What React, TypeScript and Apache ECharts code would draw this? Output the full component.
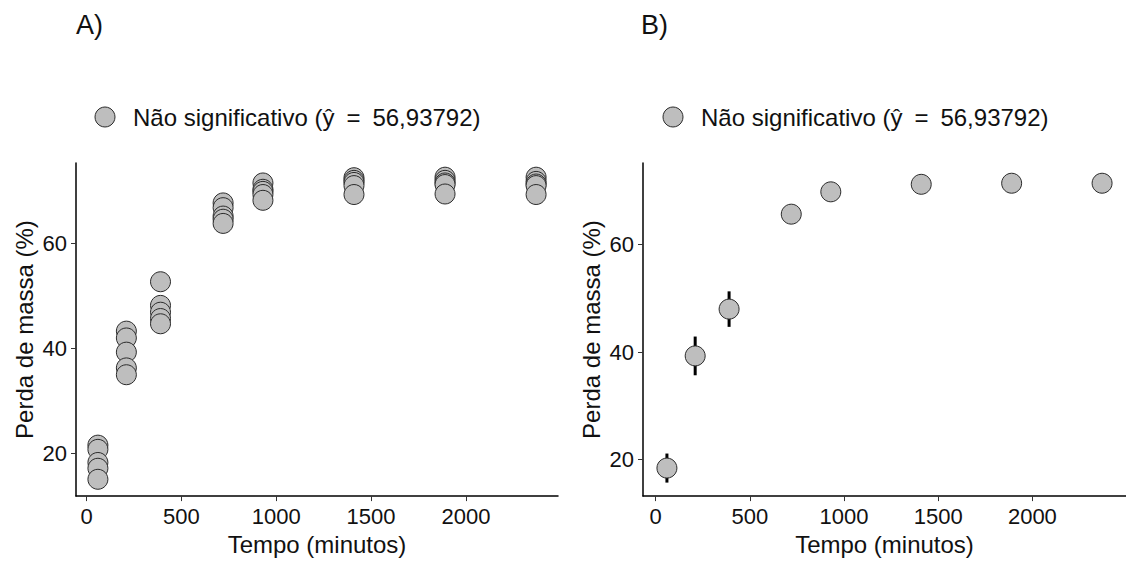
import React, { useEffect, useRef } from "react";
import * as echarts from "echarts";

const FONT = "'Liberation Sans', Arial, Helvetica, sans-serif";

// Time points (minutes)
const tempos = [60, 210, 390, 720, 930, 1410, 1890, 2370];

// Panel A: individual replicates (% mass loss) per time point
const rep1 = [21.6, 43.3, 52.7, 67.7, 71.5, 72.5, 72.6, 72.6];
const rep2 = [20.8, 42.0, 48.2, 66.8, 70.3, 72.0, 72.0, 71.8];
const rep3 = [18.3, 39.3, 46.9, 65.2, 69.9, 71.6, 71.5, 71.3];
const rep4 = [17.2, 36.3, 45.7, 64.6, 69.3, 71.0, 71.2, 71.0];
const rep5 = [15.1, 35.0, 44.7, 63.8, 68.2, 69.3, 69.4, 69.3];

// Panel B: means and standard deviations
const medias = [18.45, 39.3, 48.0, 65.65, 69.8, 71.2, 71.4, 71.4];
const desvios = [2.7, 3.6, 3.3, 1.6, 1.3, 1.2, 1.2, 1.3];

const xTicks = [0, 500, 1000, 1500, 2000];
const yTicks = [20, 40, 60];

const legendText = "Não significativo (ŷ\u2002=\u200256,93792)";
const xName = "Tempo (minutos)";
const yName = "Perda de massa (%)";

export default function App() {
  const ref = useRef<HTMLDivElement>(null);

  useEffect(() => {
    if (!ref.current) return;
    const chart = echarts.init(ref.current, null, { renderer: "svg" });

    const repsA: number[][] = [];
    [rep1, rep2, rep3, rep4, rep5].forEach((rep) => {
      rep.forEach((v, i) => repsA.push([tempos[i], v]));
    });
    const meansB = tempos.map((t, i) => [t, medias[i]]);
    const barsB = tempos.map((t, i) => [t, medias[i] - desvios[i], medias[i] + desvios[i]]);

    const pointStyle = { color: "#bebebe", borderColor: "#2b2b2b", borderWidth: 1, opacity: 1 };

    const xAxisBase = (gridIndex: number, min: number, max: number) => ({
      gridIndex,
      type: "value",
      min,
      max,
      name: xName,
      nameLocation: "middle",
      nameGap: 29,
      nameTextStyle: { fontFamily: FONT, fontSize: 24, color: "#111" },
      axisLine: { show: true, onZero: false, lineStyle: { color: "#000", width: 1.5 } },
      axisTick: { show: true, length: 5, customValues: xTicks, lineStyle: { color: "#333", width: 1 } },
      axisLabel: {
        customValues: xTicks,
        formatter: (v: number) => String(v),
        fontFamily: FONT,
        fontSize: 22,
        color: "#111",
        margin: 9,
      },
      splitLine: { show: false },
    });
    const yAxisBase = (gridIndex: number, min: number, max: number) => ({
      gridIndex,
      type: "value",
      min,
      max,
      name: yName,
      nameLocation: "middle",
      nameGap: 40,
      nameRotate: 90,
      nameTextStyle: { fontFamily: FONT, fontSize: 24, color: "#111" },
      axisLine: { show: true, onZero: false, lineStyle: { color: "#000", width: 1.5 } },
      axisTick: { show: true, length: 5, customValues: yTicks, lineStyle: { color: "#333", width: 1 } },
      axisLabel: {
        customValues: yTicks,
        formatter: (v: number) => String(v),
        fontFamily: FONT,
        fontSize: 22,
        color: "#111",
        margin: 9,
      },
      splitLine: { show: false },
    });

    const legendGraphic = (cx: number, tx: number) => [
      { type: "circle", shape: { cx, cy: 117, r: 10 }, style: { fill: "#bebebe", stroke: "#2b2b2b", lineWidth: 1 } },
      {
        type: "text",
        x: tx,
        y: 117,
        style: { text: legendText, fontFamily: FONT, fontSize: 24, fill: "#111", verticalAlign: "middle", align: "left" },
      },
    ];

    chart.setOption({
      animation: false,
      backgroundColor: "#fff",
      grid: [
        { left: 76, top: 163, width: 482, height: 336, containLabel: false },
        { left: 643, top: 163, width: 483, height: 336, containLabel: false },
      ],
      xAxis: [xAxisBase(0, -55.5, 2485.5), xAxisBase(1, -67, 2497)],
      yAxis: [yAxisBase(0, 11.9, 75.3), yAxisBase(1, 13.24, 75.16)],
      graphic: [
        { type: "text", left: 76, top: 11, style: { text: "A)", fontFamily: FONT, fontSize: 27, fill: "#111" } },
        { type: "text", left: 641, top: 11, style: { text: "B)", fontFamily: FONT, fontSize: 27, fill: "#111" } },
        ...legendGraphic(105, 133),
        ...legendGraphic(673, 701),
      ],
      series: [
        {
          type: "scatter",
          name: legendText,
          xAxisIndex: 0,
          yAxisIndex: 0,
          symbol: "circle",
          symbolSize: 20,
          itemStyle: pointStyle,
          data: repsA,
          z: 10,
        },
        {
          type: "custom",
          xAxisIndex: 1,
          yAxisIndex: 1,
          data: barsB,
          encode: { x: 0, y: [1, 2] },
          z: 1,
          renderItem: (params: any, api: any) => {
            const x = api.value(0);
            const p1 = api.coord([x, api.value(1)]);
            const p2 = api.coord([x, api.value(2)]);
            return {
              type: "line",
              shape: { x1: p1[0], y1: p1[1], x2: p2[0], y2: p2[1] },
              style: { stroke: "#000", lineWidth: 3 },
            };
          },
        },
        {
          type: "scatter",
          name: legendText,
          xAxisIndex: 1,
          yAxisIndex: 1,
          symbol: "circle",
          symbolSize: 20,
          itemStyle: pointStyle,
          data: meansB,
          z: 10,
        },
      ],
    });

    return () => chart.dispose();
  }, []);

  return (
    <div
      ref={ref}
      style={{ position: "absolute", left: 0, top: 0, width: 1126, height: 561, background: "#fff" }}
    />
  );
}
